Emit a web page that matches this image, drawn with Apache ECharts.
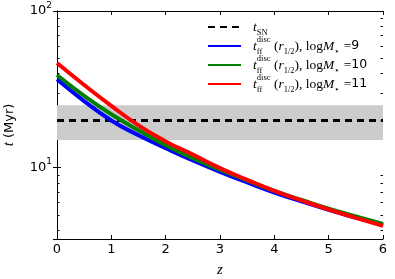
<!DOCTYPE html>
<html><head><meta charset="utf-8">
<script src="https://cdn.jsdelivr.net/npm/echarts@6/dist/echarts.min.js"></script>
<style>html,body{margin:0;padding:0;background:#fff}#c{width:395px;height:279px}</style>
</head><body><div id="c"></div>
<script>
// ---- data ----
const z      = [0, 0.5, 1, 1.5, 2, 2.5, 3, 3.5, 4, 4.5, 5, 5.5, 6];
const tff9   = [36.7, 26.6, 20.0, 16.1, 13.3, 11.1, 9.4, 8.04, 6.93, 6.08, 5.37, 4.79, 4.30];
const tff10  = [39.0, 28.7, 21.9, 17.3, 13.9, 11.5, 9.7, 8.28, 7.11, 6.22, 5.47, 4.88, 4.37];
const tff11  = [46.5, 33.7, 24.8, 18.6, 14.7, 12.1, 9.93, 8.36, 7.11, 6.17, 5.40, 4.78, 4.25];
const snZ    = [0, 6];
const snT    = [20, 20];
const band   = [15, 25];
const masses = [9, 10, 11];
const xRange = [0, 6];
const yRange = [3.5, 100];
const yMinorTicks = [4, 5, 6, 7, 8, 9, 20, 30, 40, 50, 60, 70, 80, 90];

const serif = 'Liberation Serif';
const sans = 'DejaVu Sans';
const pairs = (xs, ys) => xs.map((x, i) => [x, ys[i]]);

const legRich = {
  i:   {fontFamily: serif, fontStyle: 'italic', fontSize: 13.5, lineHeight: 14, color: '#000'},
  r:   {fontFamily: serif, fontSize: 13.5, lineHeight: 14, color: '#000'},
  n:   {fontFamily: sans, fontSize: 12.5, lineHeight: 14, color: '#000'},
  sub: {fontFamily: serif, fontSize: 8.5, color: '#000', verticalAlign: 'bottom', lineHeight: 9, padding: [0,0,-3,0]},
  subz:{fontFamily: serif, fontSize: 8.5, color: '#000', verticalAlign: 'bottom', lineHeight: 9, padding: [0,0,-3,0], width: 0.1},
  sup: {fontFamily: serif, fontSize: 8.5, color: '#000', verticalAlign: 'top', lineHeight: 9, padding: [-4,0,0,0]}
};
const names = ['tSN'].concat(masses.map(m => 'm' + m));
function legendLabel(name) {
  if (name === 'tSN') return '{i|t}{sub|SN}';
  const m = name.slice(1);
  return '{i|t}{subz|ff}{sup|disc}{r| (}{i|r}{sub|1/2}{r|), log}{i|M}{sub|⋆}{r| =}{n|' + m + '}';
}

const axisLabelRich = {
  b: {fontFamily: sans, fontSize: 13, color: '#000', lineHeight: 20},
  s: {fontFamily: sans, fontSize: 9, color: '#000', lineHeight: 10, verticalAlign: 'top'}
};

const chart = echarts.init(document.getElementById('c'), null, {renderer: 'canvas'});
const lineColors = ['#0000ff', '#008000', '#ff0000'];
const curves = [tff9, tff10, tff11];

const option = {
  animation: false,
  backgroundColor: '#fff',
  grid: {left: 57, right: 12, top: 11, bottom: 40, outerBoundsMode: 'none'},
  legend: {
    orient: 'vertical', left: 207, top: 20, padding: 0, itemWidth: 33, itemHeight: 12, itemGap: -2,
    data: names, formatter: legendLabel,
    itemStyle: {opacity: 0},
    textStyle: {rich: legRich, padding: [0, 0, 0, 7]},
    selectedMode: false
  },
  xAxis: [
    {type: 'value', min: xRange[0], max: xRange[1], interval: 1, position: 'bottom',
     name: 'z', nameLocation: 'middle', nameGap: 24,
     nameTextStyle: {fontFamily: serif, fontStyle: 'italic', fontSize: 15, color: '#000'},
     axisLine: {lineStyle: {color: '#000', width: 1}},
     axisTick: {inside: true, length: 4, lineStyle: {color: '#000'}},
     axisLabel: {margin: 4, fontFamily: sans, fontSize: 13, color: '#000'},
     splitLine: {show: false}},
    {type: 'value', min: xRange[0], max: xRange[1], interval: 1, position: 'top',
     axisLine: {lineStyle: {color: '#000', width: 1}},
     axisTick: {inside: true, length: 4, lineStyle: {color: '#000'}},
     axisLabel: {show: false}, splitLine: {show: false}}
  ],
  yAxis: [
    {type: 'log', logBase: 10, min: yRange[0], max: yRange[1], position: 'left',
     name: '{i|t} (Myr)', nameLocation: 'middle', nameGap: 40,
     nameTextStyle: {fontFamily: sans, fontSize: 13, color: '#000',
       rich: {i: {fontFamily: serif, fontStyle: 'italic', fontSize: 15, color: '#000'}}},
     axisLine: {lineStyle: {color: '#000', width: 1}},
     axisTick: {inside: true, length: 4, lineStyle: {color: '#000'}},
     axisLabel: {margin: 5, rich: axisLabelRich, formatter: v => {
       const e = Math.log10(v);
       if (Math.abs(e - Math.round(e)) > 1e-6) return '';
       return '{b|10}{s|' + Math.round(e) + '}';
     }},
     splitLine: {show: false}},
    {type: 'log', logBase: 10, min: yRange[0], max: yRange[1], position: 'right',
     axisLine: {lineStyle: {color: '#000', width: 1}},
     axisTick: {inside: true, length: 4, lineStyle: {color: '#000'}},
     axisLabel: {show: false}, splitLine: {show: false}}
  ],
  series: [
    {name: 'tSN', type: 'line', data: pairs(snZ, snT), symbol: 'none', z: 3,
     lineStyle: {color: '#000', width: 3, type: [7, 5]}, itemStyle: {color: '#000'},
     markArea: {silent: true, itemStyle: {color: '#cccccc'},
       data: [[{yAxis: band[0]}, {yAxis: band[1]}]]}}
  ].concat(curves.map((d, k) => ({
    name: names[k + 1], type: 'line', data: pairs(z, d), symbol: 'none', smooth: 0.5, z: 4 + k,
    lineStyle: {color: lineColors[k], width: 4}, itemStyle: {color: lineColors[k]}
  }))).concat([{
    type: 'custom', silent: true, z: 10,
    data: yMinorTicks.map(v => [xRange[0], v]),
    encode: {x: 0, y: 1},
    renderItem: (params, api) => {
      const p = api.coord([api.value(0), api.value(1)]);
      const cs = params.coordSys;
      const y = Math.round(p[1]) + 0.5;
      return {type: 'group', children: [
        {type: 'line', shape: {x1: cs.x, y1: y, x2: cs.x + 2.5, y2: y}, style: {stroke: '#000', lineWidth: 1}},
        {type: 'line', shape: {x1: cs.x + cs.width - 2.5, y1: y, x2: cs.x + cs.width, y2: y}, style: {stroke: '#000', lineWidth: 1}}
      ]};
    }
  }])
};
chart.setOption(option);
</script></body></html>
